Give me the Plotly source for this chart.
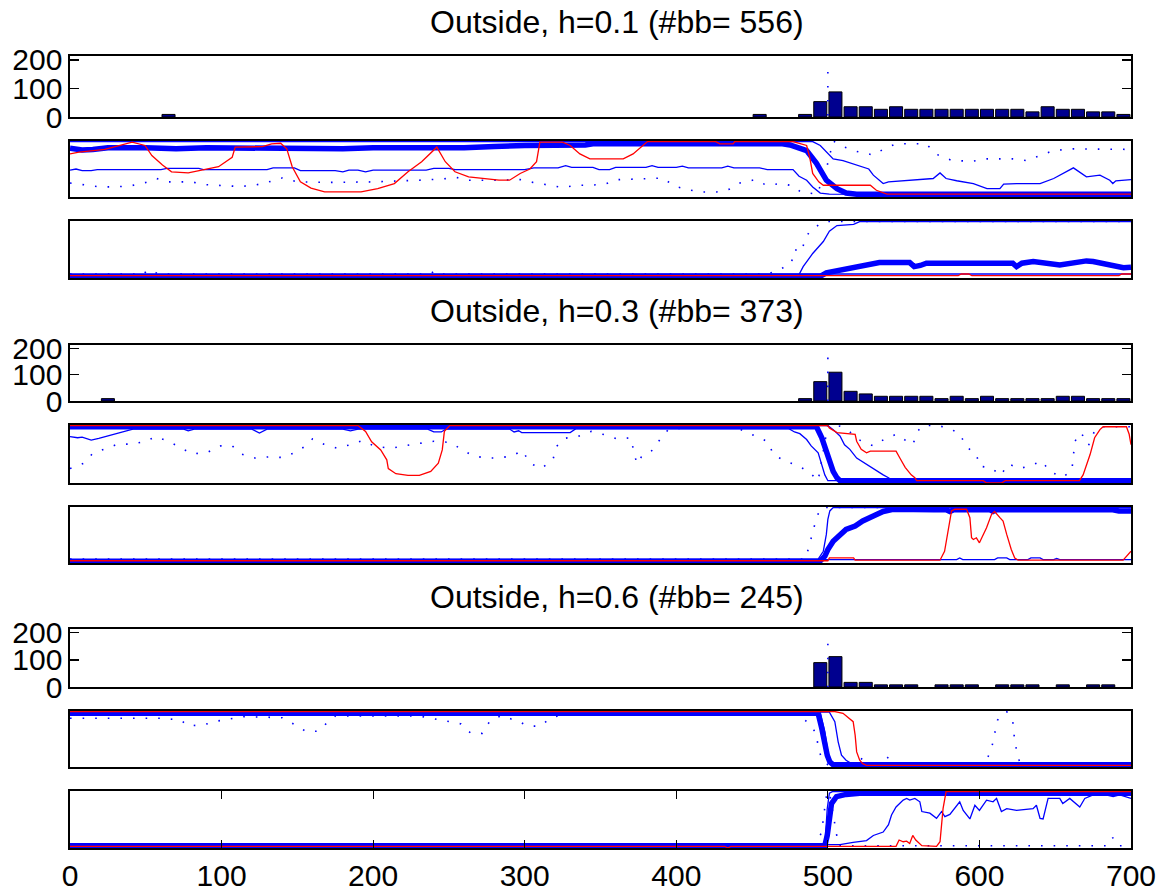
import plotly.graph_objects as go

FONT = "Liberation Sans, Arial, Helvetica, sans-serif"

# ---------------- texts / ticks ----------------
titles = ["Outside, h=0.1 (#bb= 556)", "Outside, h=0.3 (#bb= 373)", "Outside, h=0.6 (#bb= 245)"]
x_ticks = [0, 100, 200, 300, 400, 500, 600, 700]
hist_ticks = [0, 100, 200]

# ---------------- histograms ----------------
g1_hist_x = [65, 455, 485, 495, 505, 515, 525, 535, 545, 555, 565, 575, 585, 595, 605, 615, 625, 635, 645, 655, 665, 675, 685, 695]
g1_hist_y = [9, 9, 9, 54, 88, 36, 36, 27, 36, 27, 27, 27, 27, 27, 27, 27, 27, 18, 36, 27, 27, 18, 18, 9]
g2_hist_x = [25, 485, 495, 505, 515, 525, 535, 545, 555, 565, 575, 585, 595, 605, 615, 625, 635, 645, 655, 665, 675, 685, 695]
g2_hist_y = [9, 9, 74, 110, 37, 27, 18, 18, 18, 18, 9, 18, 9, 18, 9, 9, 9, 9, 18, 18, 9, 9, 9]
g3_hist_x = [495, 505, 515, 525, 535, 545, 555, 575, 585, 595, 615, 625, 635, 655, 675, 685]
g3_hist_y = [90, 112, 17, 17, 8, 8, 8, 8, 8, 8, 8, 8, 8, 8, 8, 8]
hist_ref_x = [500, 500]
g1_ref_y = [158, 0]
g2_ref_y = [166, 0]
g3_ref_y = [160, 0]

# ---------------- group 1, panel 2 ----------------
g1_p2_thick = [(0,.87),(8,.84),(15,.85),(25,.88),(50,.88),(70,.86),(90,.88),(120,.87),(150,.88),(180,.86),(200,.88),(230,.87),(260,.88),(280,.9),(300,.92),(340,.93),(345,.95),(470,.95),(475,.93),(486,.83),(492.5,.6),(499,.3),(506,.15),(512,.07),(519,.05),(700,.05)]
g1_p2_thinA = [(0,.48),(4,.5),(8,.47),(14,.47),(18,.49),(60,.49),(64,.51),(85,.51),(88,.49),(130,.49),(134,.52),(148,.52),(152,.47),(175,.47),(180,.45),(184,.48),(190,.48),(195,.45),(200,.48),(235,.48),(240,.51),(250,.51),(254,.49),(300,.49),(306,.52),(322,.52),(327,.56),(331,.53),(345,.53),(349,.49),(356,.49),(360,.53),(380,.53),(384,.56),(388,.53),(400,.53),(404,.55),(408,.52),(430,.52),(434,.55),(438,.52),(455,.52),(460,.49),(477,.49),(481,.37),(486,.3),(490,.18),(495,.07),(501,.05),(700,.03)]
g1_p2_thinB = [(0,.99),(490,.99),(495,.92),(503.5,.68),(510,.65),(519,.57),(527,.5),(530,.39),(536.5,.24),(540,.27),(552,.29),(569.5,.33),(574,.43),(578,.33),(585,.29),(596,.24),(605,.15),(613.5,.15),(616,.23),(624.5,.24),(640,.24),(649,.33),(662,.52),(670.6,.36),(679.5,.39),(686,.3),(688,.24),(690,.29),(700,.31)]
g1_p2_dotted = [(0,.25),(10,.22),(20,.18),(30,.18),(40,.2),(50,.26),(57,.33),(65,.27),(80,.27),(90,.22),(100,.2),(110,.19),(120,.2),(130,.26),(140,.34),(150,.27),(170,.26),(200,.27),(230,.3),(245,.32),(255,.35),(262,.3),(280,.3),(297,.31),(305.6,.26),(316.6,.21),(325,.17),(334,.21),(343,.21),(353,.23),(361.7,.31),(383.6,.33),(391,.34),(399,.19),(408,.13),(416.6,.09),(426.5,.09),(435,.14),(442,.25),(452,.31),(459.5,.21),(469,.24),(477,.2),(482,.09),(493,.05),(499,.5),(503.5,1.0),(510,.9),(518,.82),(530,.75),(536.5,.85),(545,.95),(565,.95),(571,.77),(582,.65),(596,.64),(605,.68),(622,.68),(631,.65),(640,.74),(649,.83),(662,.86),(684,.85),(700,.85)]
g1_p2_red = [(0,.77),(6,.8),(23,.85),(32,.92),(41,.98),(49.5,.92),(54,.74),(61,.57),(67,.45),(78,.43),(89,.49),(98,.54),(107,.71),(109,.89),(127,.9),(133,.95),(139,.96),(143,.86),(146.6,.54),(152,.27),(159,.16),(168,.09),(192,.09),(203,.15),(214,.24),(223,.45),(232,.63),(236,.74),(242,.89),(247.6,.63),(254,.45),(263,.36),(272,.33),(283,.3),(290,.3),(297,.42),(303.4,.5),(307.8,.63),(310,.98),(325,.98),(330,.92),(336.4,.77),(343,.68),(365,.68),(371.5,.77),(378,.92),(381,.99),(426,.99),(428.7,.95),(437.5,.95),(438.6,.99),(477,.99),(481.5,.95),(486,.92),(488,.71),(490,.42),(494,.27),(497,.21),(528,.21),(532,.12),(539,.05),(700,.05)]

# ---------------- group 1, panel 3 ----------------
g1_p3_thick = [(0,.02),(495,.03),(499,.09),(508,.14),(517,.2),(525.5,.24),(534,.27),(554,.27),(557,.2),(561,.22),(565,.26),(622,.26),(624.5,.2),(628,.26),(635.5,.29),(653,.23),(662,.26),(670.6,.3),(675,.29),(684,.24),(695,.18),(700,.19)]
g1_p3_thin1 = [(0,.03),(480.4,.03),(483.7,.2),(490,.43),(497,.64),(501,.82),(506,.92),(517,.94),(521,.99),(700,.99)]
g1_p3_thin2 = [(0,.07),(700,.07)]
g1_p3_dotted = [(0,.07),(45,.07),(48,.12),(52,.07),(55,.12),(58,.07),(238,.07),(240,.12),(243,.07),(460,.07),(468,.14),(476,.27),(478,.5),(482.6,.46),(485,.68),(488,.82),(496,.97),(500,.99),(700,.99)]
g1_p3_red = [(0,.04),(586,.04),(588,.07),(593,.07),(595,.04),(692,.04),(694,.07),(700,.07)]

# ---------------- group 2, panel 2 ----------------
g2_p2_thick = [(0,.97),(492.5,.97),(496,.78),(499,.55),(501,.38),(503.5,.2),(506,.09),(508,.04),(700,.04)]
g2_p2_thinA = [(0,.8),(5,.78),(8,.79),(14,.74),(19,.77),(26,.82),(32,.86),(41.5,.93),(75,.93),(78,.9),(82,.93),(120,.93),(125,.86),(130,.93),(180,.93),(185,.9),(190,.93),(236,.93),(240,.88),(245,.88),(248,.93),(290,.93),(293,.88),(296,.9),(298,.87),(330,.87),(334,.94),(474,.94),(478,.88),(481.5,.85),(486,.75),(489,.64),(493.6,.52),(496,.29),(498,.14),(500,.04),(700,.04)]
g2_p2_thinB = [(0,.99),(500,.99),(503.5,.92),(508,.81),(511,.66),(514.5,.58),(519,.43),(525.5,.32),(531,.23),(536.5,.14),(540,.09),(543,.04),(700,.04)]
g2_p2_dotted = [(0,.25),(9,.34),(15,.51),(24,.59),(31.5,.67),(40,.67),(49,.71),(56.7,.8),(65.5,.71),(73,.61),(80.6,.5),(90.7,.53),(99.5,.64),(107,.64),(113,.5),(122,.43),(131,.45),(140,.44),(147,.51),(155,.63),(160,.76),(167.5,.67),(176,.6),(185,.66),(192.7,.73),(201.5,.63),(212,.6),(225,.66),(240,.72),(250.6,.7),(258,.59),(265.7,.47),(274.6,.43),(283,.43),(292,.47),(298.5,.56),(303.5,.34),(311,.25),(318.6,.4),(321,.63),(326,.77),(335,.8),(344,.89),(353,.83),(361,.76),(370,.78),(372,.54),(374,.33),(377,.45),(384,.56),(389.5,.76),(395,.93),(420,.97),(440,.95),(453,.8),(460.6,.71),(464,.49),(471.6,.38),(480.4,.3),(488,.18),(493.6,.04),(500,1.0),(508,.98),(514.5,.88),(520,.75),(530,.64),(537,.75),(545,.84),(551,.74),(556,.66),(559.6,.9),(562,.98),(570.6,1.0),(579.4,.95),(587,.85),(591.5,.62),(598,.5),(600,.29),(608,.26),(614,.13),(619,.33),(626.6,.25),(634,.3),(641,.38),(647,.19),(655,.1),(661,.22),(662,.48),(663,.72),(667,.87),(672,.65),(676,.9),(680.5,.97),(700,.97)]
g2_p2_red = [(0,.99),(190,.99),(195,.89),(199,.71),(205,.57),(209,.4),(210,.25),(215,.16),(223,.13),(230.5,.13),(238,.2),(243,.34),(245.6,.57),(247,.89),(250.6,.99),(500,.99),(501,.95),(506,.87),(518,.84),(519,.72),(522,.58),(525.5,.52),(528,.55),(545,.55),(547.5,.43),(551,.27),(555,.14),(557.4,.09),(558.5,.04),(602.5,.04),(604.7,0),(614.6,0),(617,.04),(666,.04),(668.4,.14),(673,.49),(676,.78),(679.5,.92),(681.6,.97),(697,.97),(698.8,.84),(700,.66)]

# ---------------- group 2, panel 3 ----------------
g2_p3_thick = [(0,.02),(494.7,.03),(498,.12),(500,.24),(503.5,.39),(508,.51),(512,.6),(518,.66),(523,.75),(530,.84),(536.5,.92),(543,.96),(565,.95),(567,.93),(570,.95),(578,.95),(580.5,.92),(583,.95),(607,.95),(609,.92),(611,.95),(688,.95),(692,.93),(700,.93)]
g2_p3_thin1 = [(0,.07),(493.6,.07),(497,.21),(499,.51),(500,.78),(501.3,.93),(503.5,.99),(700,.99)]
g2_p3_thin2 = [(0,.06),(585,.06),(587,.09),(589,.06),(610,.06),(612,.09),(618,.09),(620,.06),(632,.06),(634,.09),(640,.09),(642,.06),(649,.06),(651,.08),(653,.06),(700,.06)]
g2_p3_dotted = [(0,.07),(485,.07),(487,.24),(489,.45),(492,.75),(494.7,.96),(497,.99),(700,.99)]
g2_p3_red = [(0,.04),(500,.04),(501,.09),(517,.09),(518,.05),(574,.05),(577,.21),(579.4,.63),(581.6,.93),(583.8,.96),(591.5,.96),(593.7,.81),(594.8,.45),(596,.42),(598,.45),(600,.36),(602.5,.51),(604.7,.63),(608,.87),(610,.92),(613.5,.81),(615.6,.75),(618,.51),(621,.24),(623.3,.09),(625.5,.05),(694.8,.05),(700,.21)]

# ---------------- group 3, panel 2 ----------------
g3_p2_thick = [(0,.96),(493.6,.96),(496,.69),(498,.39),(499.6,.21),(501.3,.09),(503.5,.04),(700,.04)]
g3_p2_thinA = [(0,.97),(495,.97),(498,.63),(500,.27),(502.4,.06),(504,.04),(700,.04)]
g3_p2_thinB = [(0,.98),(501,.98),(504.6,.81),(506.8,.45),(509,.21),(512,.12),(515.6,.06),(518,.04),(700,.04)]
g3_p2_dotted = [(0,.87),(60,.87),(73,.84),(78,.73),(89,.76),(97,.82),(114.6,.9),(140,.88),(150,.73),(156,.63),(164,.64),(170,.8),(175,.91),(230.5,.91),(258,.77),(264.5,.6),(272,.6),(277,.82),(284.6,.92),(297,.8),(302,.73),(310,.73),(317,.87),(326,.95),(480,.95),(487,.79),(492.5,.6),(493.6,.34),(496,.15),(500,.04),(520,.04),(523,.18),(527,.04),(531,.13),(535,.04),(540,.18),(544,.04),(547.5,.13),(551,.04),(602,.04),(604.7,.12),(608,.33),(610,.59),(612,.84),(618,.99),(622,.81),(623,.54),(624.5,.29),(627,.04),(700,.04)]
g3_p2_red = [(0,.99),(504.6,.99),(510,.96),(514.5,.87),(516.7,.81),(518,.57),(519,.27),(521,.12),(523,.06),(525.5,.03),(700,.03)]

# ---------------- group 3, panel 3 ----------------
g3_p3_thick = [(0,.04),(498,.04),(499.6,.22),(501,.58),(502.4,.78),(505.7,.9),(512,.94),(521,.96),(700,.96)]
g3_p3_thin1 = [(0,.04),(498,.04),(499.6,.69),(501,.96),(503,.99),(700,.99)]
g3_p3_thin2 = [(0,.06),(508,.06),(516.7,.1),(525.5,.13),(530,.22),(536.5,.28),(540,.41),(542,.58),(545,.72),(549.7,.84),(552,.87),(554,.84),(557.4,.87),(560.7,.81),(562,.64),(567.3,.61),(571.7,.52),(575,.64),(577.2,.55),(580.5,.59),(587,.81),(589.3,.66),(593.7,.51),(597,.75),(600,.66),(604.7,.84),(609,.81),(611.3,.87),(614.5,.64),(618,.69),(624.5,.66),(635.4,.69),(637.6,.75),(640,.52),(642,.51),(645.3,.87),(653,.87),(655,.78),(659.6,.87),(664,.78),(666.2,.72),(669.5,.87),(675,.93),(679.4,.96),(688.2,.9),(692.6,.93),(700,.87)]
g3_p3_dotted = [(0,.04),(490,.04),(492.5,.1),(496,.28),(497,.52),(499,.9),(501,.99),(504,.5),(507,.04),(685,.04),(688,.18),(691,.04),(700,.04)]
g3_p3_red = [(0,.03),(432,.03),(434,0),(436,.03),(545,.03),(547,.14),(549.7,.11),(552,.12),(554,.08),(556,.22),(558,.14),(562,.04),(571.7,.03),(574,.11),(576,.69),(578,.99),(700,.99)]

# ---------------- layout geometry (pixels; page body margin removed via post_script) ----------------
W, H = 1164, 894
L, R = 70, 1131
panel_px = [(56, 117), (141, 197), (221, 278),
            (345, 401), (425, 483), (507, 563),
            (629, 687), (711, 767), (791, 848)]
title_px = [22, 311, 597]
title_cx = 617

BLUE = "#0000FF"
RED = "#FF0000"
NAVY = "#00008F"

hists = [(g1_hist_x, g1_hist_y, g1_ref_y), (g2_hist_x, g2_hist_y, g2_ref_y), (g3_hist_x, g3_hist_y, g3_ref_y)]
panels = [
    [g1_p2_thick, g1_p2_thinA, g1_p2_thinB, g1_p2_dotted, g1_p2_red],
    [g1_p3_thick, g1_p3_thin1, g1_p3_thin2, g1_p3_dotted, g1_p3_red],
    [g2_p2_thick, g2_p2_thinA, g2_p2_thinB, g2_p2_dotted, g2_p2_red],
    [g2_p3_thick, g2_p3_thin1, g2_p3_thin2, g2_p3_dotted, g2_p3_red],
    [g3_p2_thick, g3_p2_thinA, g3_p2_thinB, g3_p2_dotted, g3_p2_red],
    [g3_p3_thick, g3_p3_thin1, g3_p3_thin2, g3_p3_dotted, g3_p3_red],
]
styles = [
    dict(color=BLUE, width=5.5),
    dict(color=BLUE, width=1.3),
    dict(color=BLUE, width=1.3),
    dict(color=BLUE, width=1.6, dash="1.6px,11px"),
    dict(color=RED, width=1.3),
]

fig = go.Figure()
layout = {}


def ax_name(i, kind):
    return kind + ("" if i == 1 else str(i))


for g in range(3):
    for k in range(3):
        idx = g * 3 + k + 1
        top, bot = panel_px[idx - 1]
        xa, ya = ax_name(idx, "xaxis"), ax_name(idx, "yaxis")
        xr = "x" if idx == 1 else "x%d" % idx
        yr = "y" if idx == 1 else "y%d" % idx
        bottom_panel = (idx == 9)
        layout[xa] = dict(
            domain=[0, 1], anchor=yr, range=[0, 700],
            showline=True, linecolor="black", linewidth=1.6, mirror="ticks" if bottom_panel else True,
            showgrid=False, zeroline=False,
            ticks="inside" if bottom_panel else "", ticklen=8, tickwidth=1.2, tickcolor="black",
            tickvals=x_ticks if bottom_panel else [],
            showticklabels=bottom_panel, ticklabeloverflow="allow",
            tickfont=dict(family=FONT, size=30, color="black"),
        )
        ydom = [1 - bot / H, 1 - top / H]
        if k == 0:
            layout[ya] = dict(
                domain=ydom, anchor=xr, range=[0, 214],
                showline=True, linecolor="black", linewidth=1.6, mirror="ticks",
                showgrid=False, zeroline=False,
                ticks="inside", ticklen=9, tickwidth=1.2, tickcolor="black",
                tickvals=hist_ticks, ticktext=[str(t) for t in hist_ticks],
                ticklabeloverflow="allow",
                tickfont=dict(family=FONT, size=30, color="black"),
            )
            hx, hy, ry = hists[g]
            fig.add_trace(go.Bar(x=hx, y=hy, width=8.6, marker=dict(color=NAVY, line=dict(color="black", width=1)),
                                 xaxis=xr, yaxis=yr, showlegend=False, hoverinfo="skip"))
            fig.add_trace(go.Scatter(x=hist_ref_x, y=ry, mode="lines", line=dict(color=BLUE, width=1.6, dash="1.6px,12.4px"),
                                     xaxis=xr, yaxis=yr, showlegend=False, hoverinfo="skip"))
        else:
            layout[ya] = dict(
                domain=ydom, anchor=xr, range=[0, 1],
                showline=True, linecolor="black", linewidth=1.6, mirror=True,
                showgrid=False, zeroline=False, ticks="", showticklabels=False,
            )
            series = panels[g * 2 + (k - 1)]
            for s, st in zip(series, styles):
                xs = [p[0] for p in s]
                ys = [p[1] for p in s]
                fig.add_trace(go.Scatter(x=xs, y=ys, mode="lines", line=st,
                                         xaxis=xr, yaxis=yr, showlegend=False, hoverinfo="skip"))

annotations = []
for t, py in zip(titles, title_px):
    annotations.append(dict(text=t, xref="paper", yref="paper",
                            x=(title_cx - L) / (R - L), y=1 - py / H,
                            xanchor="center", yanchor="middle", showarrow=False,
                            font=dict(family=FONT, size=32, color="black")))

fig.update_layout(
    width=W, height=H,
    margin=dict(l=L, r=W - R, t=0, b=0, autoexpand=False),
    paper_bgcolor="white", plot_bgcolor="white",
    bargap=0, barmode="overlay",
    annotations=annotations,
    **layout,
)

fig.write_html("out.html", config={"displayModeBar": False, "staticPlot": True},
               post_script="document.body.style.margin='0';document.body.style.overflow='hidden';")
